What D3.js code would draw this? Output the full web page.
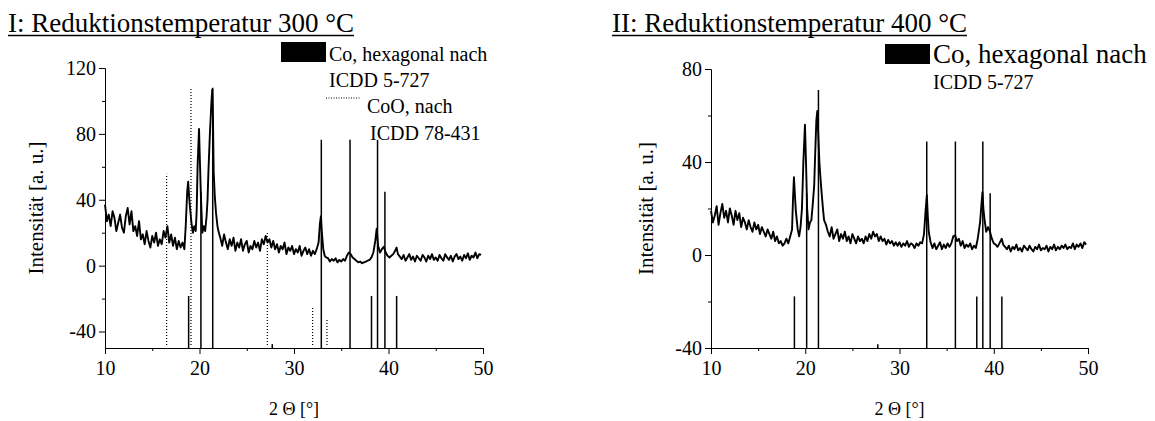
<!DOCTYPE html>
<html>
<head>
<meta charset="utf-8">
<script src="https://cdn.jsdelivr.net/npm/d3@7/dist/d3.min.js"></script>
<style>
  body { margin: 0; background: #fff; }
  text { font-family: "Liberation Serif", "Times New Roman", serif; fill: #000; }
</style>
</head>
<body>
<svg id="chart" width="1155" height="421"></svg>
<script>

// ---- data ----

// reference stick patterns: 2 theta and relative intensity
var coHexAngles = [18.85, 20.15, 21.4, 27.7, 32.89, 35.93, 38.2, 38.84, 39.62, 40.86];
var coHexIntens = [20, 60, 100, 1.5, 80, 80, 20, 80, 60, 20];
var coOAngles = [16.52, 19.1, 27.18, 31.97, 33.49];
var coOIntens = [67, 100, 45, 16, 11];

// scan I, reduced at 300 C  [2 theta, intensity]
var scan300 = [
 [10.0,37],[10.2,27],[10.4,31],[10.6,24],[10.8,33],[11.0,29],[11.2,21],[11.4,26],[11.6,31],[11.8,23],
 [12.0,20],[12.2,30],[12.4,35],[12.6,25],[12.8,33],[13.0,21],[13.2,24],[13.4,18],[13.6,27],[13.8,16],
 [14.0,19],[14.2,13],[14.4,21],[14.6,15],[14.8,11],[15.0,18],[15.2,14],[15.4,20],[15.6,12],[15.8,16],
 [16.0,13],[16.2,21],[16.4,17],[16.6,24],[16.8,14],[17.0,19],[17.2,12],[17.4,17],[17.6,10],[17.8,15],
 [18.0,11],[18.2,14],[18.4,10],[18.55,25],[18.7,45],[18.8,51],[18.9,42],[19.0,35],[19.15,26],[19.3,20],
 [19.45,24],[19.6,21],[19.7,33],[19.8,61],[19.95,83],[20.05,62],[20.15,42],[20.3,20],[20.45,24],[20.6,21],
 [20.75,30],[20.85,40],[20.95,58],[21.1,80],[21.25,98],[21.35,107],[21.42,92],[21.5,57],[21.62,42],[21.75,32],
 [21.9,24],[22.0,21],[22.2,17],[22.4,12],[22.6,19],[22.8,14],[23.0,10],[23.2,16],[23.4,12],[23.6,17],[23.8,9],
 [24.0,14],[24.2,11],[24.4,16],[24.6,9],[24.8,13],[25.0,15],[25.2,8],[25.4,12],[25.6,10],[25.8,15],
 [26.0,11],[26.2,14],[26.4,9],[26.6,16],[26.8,13],[27.0,18],[27.2,14],[27.4,16],[27.6,11],[27.8,15],
 [28.0,10],[28.2,13],[28.4,8],[28.6,12],[28.8,10],[29.0,14],[29.2,7],[29.4,11],[29.6,9],[29.8,12],
 [30.0,7],[30.2,10],[30.4,8],[30.6,12],[30.8,6],[31.0,9],[31.2,11],[31.4,7],[31.6,10],[31.8,6],
 [32.0,9],[32.2,7],[32.4,10],[32.6,14],[32.75,26],[32.85,30],[32.95,20],[33.1,10],[33.25,6],[33.4,5],
 [33.6,4.5],[33.8,2.5],[34.0,4],[34.2,3],[34.4,4.5],[34.6,2],[34.8,3.5],[35.0,2.5],[35.2,4],[35.4,3],
 [35.6,6],[35.8,8],[36.0,7],[36.2,5],[36.4,4],[36.6,3],[36.8,2],[37.0,2.5],[37.2,1.5],[37.4,2],
 [37.6,2.5],[37.8,3],[38.0,3.5],[38.2,5],[38.4,8],[38.6,15],[38.75,22.5],[38.9,12],[39.1,8],[39.3,10],
 [39.5,11.5],[39.7,8],[39.9,6],[40.1,5],[40.3,6],[40.5,7],[40.7,9],[40.85,11],[41.0,7],[41.2,5.5],
 [41.4,4],[41.6,6.5],[41.8,3],[42.0,5],[42.2,7],[42.4,3.5],[42.6,5.5],[42.8,2.5],[43.0,6],[43.2,4.5],
 [43.4,3],[43.6,6.5],[43.8,5],[44.0,2.5],[44.2,6],[44.4,4],[44.6,7],[44.8,3.5],[45.0,5],[45.2,3],
 [45.4,6.5],[45.6,4.5],[45.8,3],[46.0,7],[46.2,5],[46.4,3.5],[46.6,6],[46.8,2.5],[47.0,5.5],[47.2,7],
 [47.4,4],[47.6,5.5],[47.8,3],[48.0,6.5],[48.2,4.5],[48.4,7.5],[48.6,3.5],[48.8,6],[49.0,5],[49.2,8],
 [49.4,4.5],[49.6,7],[49.8,6.5]
];

// scan II, reduced at 400 C
var scan400 = [
 [10.0,19],[10.2,14],[10.4,17],[10.6,21],[10.8,13],[11.0,18],[11.2,22],[11.4,16],[11.6,19],[11.8,14],
 [12.0,20],[12.2,17],[12.4,13],[12.6,19],[12.8,15],[13.0,18],[13.2,12],[13.4,16],[13.6,14],[13.8,11],
 [14.0,15],[14.2,12],[14.4,10],[14.6,14],[14.8,11],[15.0,13],[15.2,9],[15.4,12],[15.6,10],[15.8,8],
 [16.0,11],[16.2,9],[16.4,7],[16.6,10],[16.8,6],[17.0,8],[17.2,5],[17.4,6],[17.6,4],[17.8,5],
 [18.0,7],[18.2,5],[18.4,8],[18.6,11],[18.7,24],[18.8,33.5],[18.9,26],[19.0,19],[19.2,11],[19.35,8],
 [19.5,12],[19.65,20],[19.8,40],[19.97,56],[20.08,40],[20.2,20],[20.35,11],[20.5,14],[20.65,15],[20.8,22],
 [20.95,30],[21.05,43],[21.18,58],[21.28,62],[21.4,50],[21.5,40],[21.6,34],[21.75,26],[21.9,19],[22.0,15],
 [22.2,13],[22.4,10],[22.6,8],[22.8,12],[23.0,7],[23.2,9],[23.4,11],[23.6,6],[23.8,9],
 [24.0,7],[24.2,10],[24.4,6],[24.6,8],[24.8,5],[25.0,9],[25.2,7],[25.4,5],[25.6,8],[25.8,6],
 [26.0,7],[26.2,5],[26.4,8],[26.6,6],[26.8,9],[27.0,7],[27.2,10],[27.4,8],[27.6,9],[27.8,6],
 [28.0,8],[28.2,6],[28.4,7],[28.6,4.5],[28.8,6.5],[29.0,5],[29.2,6],[29.4,4],[29.6,5.5],[29.8,4],
 [30.0,5.5],[30.2,3.5],[30.4,5],[30.6,4],[30.8,6],[31.0,3.5],[31.2,5],[31.4,4.5],[31.6,3],[31.8,5],
 [32.0,4],[32.2,5.5],[32.4,5],[32.6,9],[32.75,18],[32.9,25.8],[33.0,17],[33.1,10],[33.3,5.5],[33.5,3],
 [33.7,5],[33.9,2.5],[34.1,4],[34.3,5.5],[34.5,2.5],[34.7,4.5],[34.9,3],[35.1,5],[35.3,3.5],[35.5,5],
 [35.7,8],[35.9,8.5],[36.1,6],[36.3,7],[36.5,4],[36.7,6],[36.9,3],[37.1,4.5],[37.3,3.5],[37.5,5],
 [37.7,2.5],[37.9,4],[38.1,3],[38.3,7],[38.55,14],[38.7,22],[38.8,27],[38.9,20],[39.0,16],[39.2,10],
 [39.4,12],[39.6,10],[39.8,7],[40.0,5],[40.2,4.5],[40.4,3.5],[40.6,5],[40.85,7],[41.0,4.5],[41.2,3.5],
 [41.4,2.5],[41.6,4],[41.8,1.5],[42.0,3.5],[42.2,2.5],[42.4,4.5],[42.6,2],[42.8,3],[43.0,1.5],[43.2,4],
 [43.4,3],[43.6,2],[43.8,4],[44.0,2.5],[44.2,1.5],[44.4,3.5],[44.6,2.5],[44.8,4.5],[45.0,2],[45.2,3],
 [45.4,2.5],[45.6,4],[45.8,1.5],[46.0,3.5],[46.2,2.5],[46.4,4.5],[46.6,2],[46.8,3.5],[47.0,2.5],[47.2,4],
 [47.4,3],[47.6,4.5],[47.8,2.5],[48.0,3.5],[48.2,3],[48.4,5],[48.6,2.5],[48.8,4.5],[49.0,3.5],[49.2,5],
 [49.4,3],[49.6,5.5],[49.8,4.5]
];

var xTicks = [10, 20, 30, 40, 50];
var xMinor = [15, 25, 35, 45];
var yTicks300 = [-40, 0, 40, 80, 120];
var yMinor300 = [-20, 20, 60, 100];
var yTicks400 = [-40, 0, 40, 80];
var yMinor400 = [-20, 20, 60];

var titles = ["I: Reduktionstemperatur 300 \u00B0C", "II: Reduktionstemperatur 400 \u00B0C"];
var legendCo = ["Co, hexagonal nach", "ICDD 5-727"];
var legendCoO = ["CoO, nach", "ICDD 78-431"];
var xTitle = "2 \u0398 [\u00B0]";
var yTitle = "Intensit\u00E4t [a. u.]";

// ---- drawing ----

var svg = d3.select("#chart");

var drawPanel = function(p)
{
  var g = svg.append("g");

  var xScale = d3.scaleLinear().domain([10, 50]).range([p.x0, p.x1]);
  var yScale = d3.scaleLinear().domain(p.yDomain).range([p.y0, p.y1]);
  // stick heights start at the bottom of the axis
  var iScale = d3.scaleLinear().domain([0, 100]).range([p.yDomain[0], p.stickTop]);

  var fmt = function(d) { return String(d); };

  // axes
  g.append("g").attr("transform", "translate(" + p.x0 + ",0)")
    .call(d3.axisLeft(yScale).tickValues(p.yTicks).tickFormat(fmt)
          .tickSize(6).tickSizeOuter(0).tickPadding(3));
  g.append("g").attr("transform", "translate(" + p.x0 + ",0)")
    .call(d3.axisLeft(yScale).tickValues(p.yMinor).tickFormat("").tickSize(3).tickSizeOuter(0));

  g.append("g").attr("transform", "translate(0," + p.y0 + ")")
    .call(d3.axisBottom(xScale).tickValues(xTicks).tickFormat(fmt)
          .tickSize(6).tickSizeOuter(0).tickPadding(7));
  g.append("g").attr("transform", "translate(0," + p.y0 + ")")
    .call(d3.axisBottom(xScale).tickValues(xMinor).tickFormat("").tickSize(3).tickSizeOuter(0));

  g.selectAll(".tick text").style("font-size", "20px").style("font-family", "Liberation Serif");
  g.selectAll(".domain, .tick line").attr("stroke", "#000").attr("stroke-width", 1);

  // scan curve
  var line = d3.line()
    .x(function(d) { return xScale(d[0]); })
    .y(function(d) { return yScale(d[1]); });

  g.append("path")
    .datum(p.scan)
    .attr("d", line)
    .attr("fill", "none")
    .attr("stroke", "#000")
    .attr("stroke-width", 1.9)
    .attr("stroke-linejoin", "round");

  // Co hexagonal sticks
  g.selectAll(".coHex")
    .data(d3.zip(coHexAngles, coHexIntens))
    .enter()
    .append("line")
    .attr("class", "coHex")
    .attr("x1", function(d) { return xScale(d[0]); })
    .attr("x2", function(d) { return xScale(d[0]); })
    .attr("y1", yScale(p.yDomain[0]))
    .attr("y2", function(d) { return yScale(iScale(d[1])); })
    .attr("stroke", "#000")
    .attr("stroke-width", 1.5);

  // CoO sticks (only panel I)
  if (p.coO)
  {
    g.selectAll(".coO")
      .data(d3.zip(coOAngles, coOIntens))
      .enter()
      .append("line")
      .attr("class", "coO")
      .attr("x1", function(d) { return xScale(d[0]); })
      .attr("x2", function(d) { return xScale(d[0]); })
      .attr("y1", yScale(p.yDomain[0]) - 3)
      .attr("y2", function(d) { return yScale(iScale(d[1])); })
      .attr("stroke", "#000")
      .attr("stroke-width", 1.2)
      .attr("stroke-dasharray", "1,2");
  }

  // axis titles
  g.append("text")
    .attr("x", (p.x0 + p.x1) / 2)
    .attr("y", 415)
    .attr("text-anchor", "middle")
    .style("font-size", "18px")
    .text(xTitle);

  g.append("text")
    .attr("transform", "translate(" + p.yTitleX + "," + ((p.y0 + p.y1) / 2) + ") rotate(-90)")
    .attr("text-anchor", "middle")
    .style("font-size", "21px")
    .text(yTitle);

  // underlined title
  var t = g.append("text")
    .attr("x", p.titleX)
    .attr("y", 32)
    .style("font-size", "27px")
    .text(p.title);
  var w = t.node().getComputedTextLength();
  g.append("line")
    .attr("x1", p.titleX).attr("x2", p.titleX + w)
    .attr("y1", 35.5).attr("y2", 35.5)
    .attr("stroke", "#000").attr("stroke-width", 1.6);

  // legend
  var lg = g.append("g").attr("transform", "translate(" + p.legX + "," + p.legY + ")");
  lg.append("rect").attr("x", 0).attr("y", -19).attr("width", 45).attr("height", 20).attr("fill", "#000");
  lg.selectAll(".lt1").data(legendCo).enter().append("text")
    .attr("x", 48).attr("y", function(d, i) { return i * 26; })
    .style("font-size", function(d, i) { return (i == 0 ? p.legFont : 20) + "px"; })
    .text(function(d) { return d; });

  if (p.coO)
  {
    lg.append("line").attr("x1", 45).attr("x2", 79).attr("y1", 37).attr("y2", 37)
      .attr("stroke", "#000").attr("stroke-width", 1).attr("stroke-dasharray", "1,1.5");
    lg.selectAll(".lt2").data(legendCoO).enter().append("text")
      .attr("x", function(d, i) { return 86 + i * 3; })
      .attr("y", function(d, i) { return 52 + i * 27; })
      .style("font-size", "20px").text(function(d) { return d; });
  }
};

drawPanel({
  x0: 105, x1: 483, y0: 348, y1: 68,
  yDomain: [-50, 120], yTicks: yTicks300, yMinor: yMinor300,
  stickTop: 108, scan: scan300, coO: true,
  title: titles[0], titleX: 8, yTitleX: 43,
  legX: 281, legY: 61, legFont: 20
});

drawPanel({
  x0: 711, x1: 1088, y0: 348, y1: 69,
  yDomain: [-40, 80], yTicks: yTicks400, yMinor: yMinor400,
  stickTop: 71, scan: scan400, coO: false,
  title: titles[1], titleX: 612, yTitleX: 653,
  legX: 885, legY: 63, legFont: 27
});

</script>
</body>
</html>
